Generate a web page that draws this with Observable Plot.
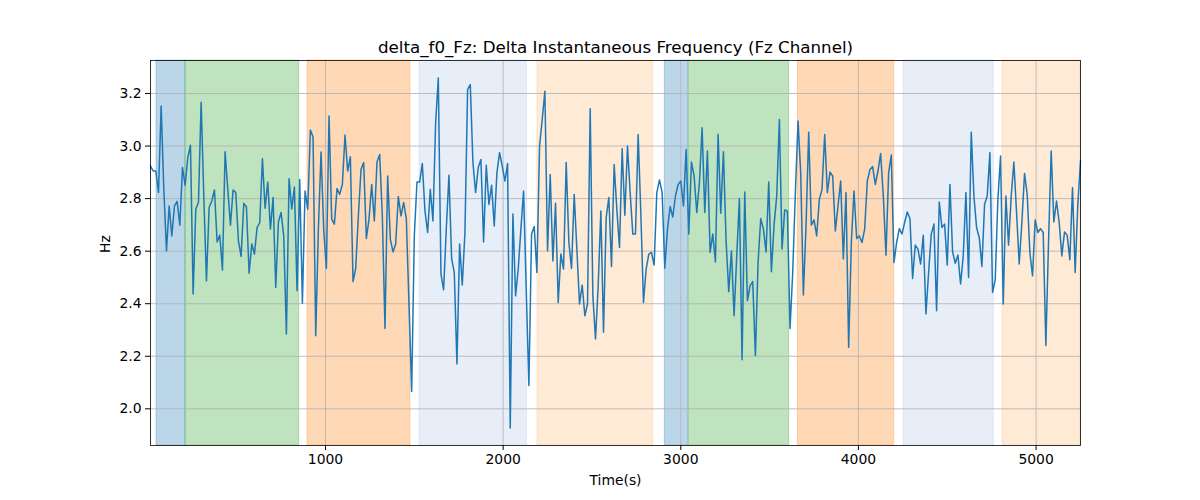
<!DOCTYPE html>
<html>
<head>
<meta charset="utf-8">
<script src="https://cdn.jsdelivr.net/npm/d3@7"></script>
<script src="https://cdn.jsdelivr.net/npm/@observablehq/plot@0.6"></script>
<style>
  body { margin: 0; background: #fff; }
  #chart { width: 1200px; height: 500px; }
</style>
</head>
<body>
<div id="chart"></div>
<script>
const chartTitle = "delta_f0_Fz: Delta Instantaneous Frequency (Fz Channel)";
const xLabel = "Time(s)";
const yLabel = "Hz";

// sampling grid (seconds)
const timeStart = 15;
const timeStep = 15;

// delta instantaneous frequency values (Hz)
const freq = [
  2.924, 2.905, 2.905, 2.823, 3.152, 2.835, 2.601, 2.772, 2.658, 2.772, 2.789, 2.699, 2.918, 2.851, 2.956, 3.003,
  2.437, 2.760, 2.785, 3.167, 2.810, 2.487, 2.766, 2.791, 2.833, 2.635, 2.661, 2.528, 2.978, 2.835, 2.699, 2.833,
  2.823, 2.639, 2.580, 2.782, 2.768, 2.516, 2.627, 2.589, 2.690, 2.709, 2.952, 2.763, 2.863, 2.684,
  2.804, 2.462, 2.711, 2.747, 2.658, 2.285, 2.876, 2.760, 2.844, 2.449, 2.873, 2.402, 2.829, 2.760, 3.061, 3.035,
  2.278, 2.684, 2.977, 2.684, 2.534, 3.114, 2.722, 2.703, 2.838, 2.816, 2.854, 3.042, 2.905, 2.959, 2.484, 2.534,
  2.734, 2.911, 2.937, 2.648, 2.722, 2.854, 2.715, 2.939, 2.968, 2.734, 2.306, 2.886, 2.646,
  2.597, 2.627, 2.808, 2.734, 2.785, 2.724, 2.399, 2.066, 2.658, 2.863, 2.863, 2.934, 2.753, 2.671, 2.835, 2.715,
  3.089, 3.259, 2.513, 2.453, 2.684, 2.889, 2.572, 2.519, 2.171, 2.627, 2.471, 2.671, 3.215, 3.234, 2.937, 2.823,
  2.918, 2.949, 2.635, 2.927, 2.778, 2.851, 2.696, 2.899, 2.975, 2.924, 2.867, 2.934, 1.927,
  2.741, 2.430, 2.532, 2.684, 2.829, 2.456, 2.089, 2.665, 2.694, 2.519, 3.000, 3.101, 3.209, 2.601, 2.892, 2.563,
  2.782, 2.405, 2.589, 2.532, 2.937, 2.633, 2.534, 2.816, 2.608, 2.399, 2.471, 2.354, 2.399, 3.142, 2.430, 2.266,
  2.468, 2.753, 2.291, 2.728, 2.804, 2.542, 2.930, 2.759, 2.614, 2.990, 2.737, 3.000, 2.823,
  2.665, 2.665, 3.044, 2.747, 2.405, 2.532, 2.589, 2.595, 2.547, 2.823, 2.871, 2.823, 2.535, 2.684, 2.770, 2.730,
  2.810, 2.854, 2.867, 2.772, 2.987, 2.665, 2.939, 2.886, 2.747, 2.861, 3.070, 2.747, 2.981, 2.595, 2.665, 2.559,
  3.044, 2.744, 2.978, 2.639, 2.446, 2.601, 2.354, 2.582, 2.800, 2.187, 2.825, 2.411, 2.468,
  2.484, 2.203, 2.557, 2.724, 2.684, 2.597, 2.863, 2.522, 2.699, 2.810, 3.101, 2.608, 2.757, 2.753, 2.306, 2.519,
  2.823, 3.095, 2.899, 2.433, 2.696, 3.053, 2.699, 2.719, 2.658, 2.797, 2.835, 3.044, 2.823, 2.901, 2.886, 2.677,
  2.772, 2.867, 2.570, 2.823, 2.234, 2.633, 2.829, 2.648, 2.658, 2.633, 2.684, 2.867, 2.911,
  2.922, 2.854, 2.905, 2.972, 2.810, 2.585, 2.899, 2.966, 2.557, 2.633, 2.686, 2.665, 2.709, 2.749, 2.724, 2.496,
  2.623, 2.608, 2.551, 2.661, 2.361, 2.519, 2.665, 2.703, 2.373, 2.787, 2.690, 2.703, 2.547, 2.854, 2.597, 2.554,
  2.585, 2.475, 2.582, 2.823, 2.500, 3.053, 2.810, 2.690, 2.652, 2.542, 2.778, 2.810, 2.975,
  2.443, 2.491, 2.797, 2.962, 2.399, 2.810, 2.623, 2.810, 2.939, 2.747, 2.551, 2.709, 2.896, 2.816, 2.595, 2.506,
  2.719, 2.671, 2.686, 2.671, 2.241, 2.633, 2.981, 2.711, 2.791, 2.709, 2.582, 2.673, 2.661, 2.567, 2.842, 2.519,
  2.778, 2.943
];

// shaded intervals (seconds)
const spanStart = [49, 212, 899, 1529, 2193, 2910, 3045, 3659, 4254, 4811];
const spanEnd   = [212, 852, 1478, 2135, 2845, 3042, 3610, 4201, 4762, 5250];
const spanKind  = ["blue", "green", "orange", "lightblue", "lightorange", "blue", "green", "orange", "lightblue", "lightorange"];

const xTicks = [1000, 2000, 3000, 4000, 5000];
const yTicks = [2.0, 2.2, 2.4, 2.6, 2.8, 3.0, 3.2];

const kindColor = {
  blue: "#1f77b4", green: "#2ca02c", orange: "#ff7f0e",
  lightblue: "#aec7e8", lightorange: "#ffbb78"
};

const series = freq.map((v, i) => ({ t: timeStart + i * timeStep, v }));
const spans = spanStart.map((s, i) => ({ x1: s, x2: spanEnd[i], kind: spanKind[i] }));

const [lo, hi] = d3.extent(freq);
const pad = (hi - lo) * 0.05;

const font = "'DejaVu Sans', sans-serif";

const plot = Plot.plot({
  width: 1200,
  height: 500,
  marginLeft: 150,
  marginRight: 120,
  marginTop: 60,
  marginBottom: 55,
  style: { fontFamily: font, fontSize: "13.9px", color: "black", background: "white", overflow: "visible" },
  x: { domain: [timeStart, timeStart + timeStep * (freq.length - 1)], label: null },
  y: { domain: [lo - pad, hi + pad], label: null },
  marks: [
    ...spans.map(s => Plot.rect([s], {
      x1: "x1", x2: "x2",
      fill: kindColor[s.kind], fillOpacity: 0.3,
      stroke: kindColor[s.kind], strokeOpacity: 0.3, strokeWidth: 1
    })),
    Plot.gridX(xTicks, { stroke: "#b0b0b0", strokeOpacity: 1, strokeWidth: 0.8 }),
    Plot.gridY(yTicks, { stroke: "#b0b0b0", strokeOpacity: 1, strokeWidth: 0.8 }),
    Plot.line(series, { x: "t", y: "v", stroke: "#1f77b4", strokeWidth: 1.5 }),
    Plot.frame({ stroke: "black", strokeWidth: 0.8 }),
    Plot.axisX(xTicks, { tickSize: 5, tickPadding: 4, fontSize: 13.9, label: null, tickFormat: d => String(d) }),
    Plot.axisY(yTicks, { tickSize: 5, tickPadding: 4, fontSize: 13.9, label: null, tickFormat: d3.format(".1f") }),
    Plot.text([chartTitle], { frameAnchor: "top", dy: -19, fontSize: 16.7, fill: "black" }),
    Plot.text([xLabel], { frameAnchor: "bottom", dy: 39, fontSize: 13.9, fill: "black" }),
    Plot.text([yLabel], { frameAnchor: "left", dx: -45, rotate: -90, fontSize: 13.9, fill: "black" })
  ]
});

document.getElementById("chart").appendChild(plot);
</script>
</body>
</html>
